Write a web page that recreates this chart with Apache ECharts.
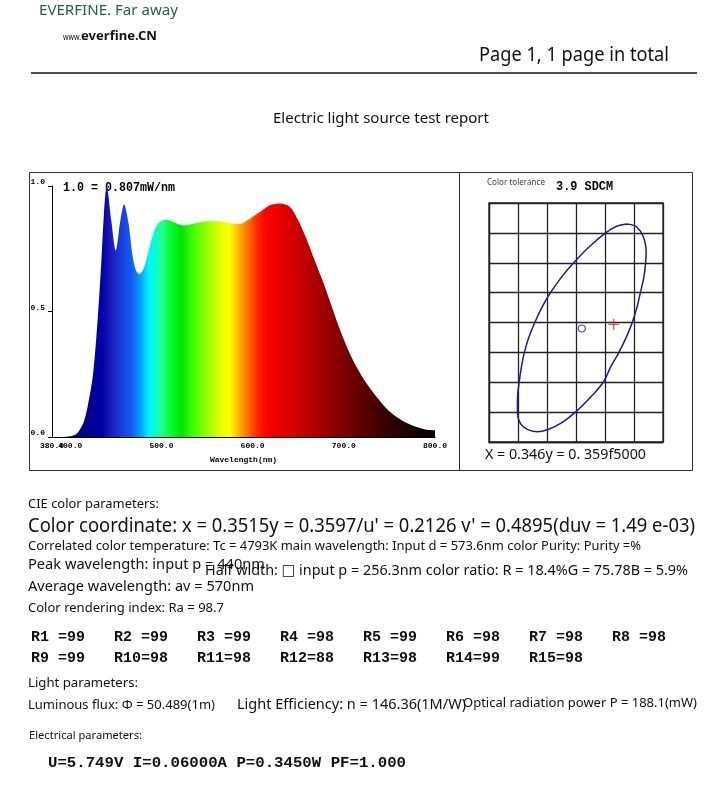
<!DOCTYPE html>
<html>
<head>
<meta charset="utf-8">
<script src="https://cdn.jsdelivr.net/npm/echarts@6/dist/echarts.min.js"></script>
<style>
html, body { margin: 0; padding: 0; background: #fff; }
#report { width: 713px; height: 791px; }
</style>
</head>
<body>
<div id="report"></div>
<script>
// relative spectral power (1.0 = 0.807 mW/nm)
var wavelength = [380, 390, 400, 407, 414, 419, 425, 430, 434, 437,
    440, 445, 450, 455, 459, 464, 468, 472, 476, 481,
    485, 491, 496, 504, 513, 524, 535, 550, 564, 579,
    586, 597, 608, 619, 630, 641, 650, 659, 668, 678,
    687, 696, 705, 714, 725, 736, 747, 758, 769, 780,
    791, 800];
var power = [0.0, 0.0, 0.003, 0.013, 0.053, 0.12, 0.25, 0.465, 0.69, 0.89,
    1.0, 0.863, 0.744, 0.863, 0.927, 0.85, 0.73, 0.664, 0.648, 0.675,
    0.73, 0.81, 0.85, 0.866, 0.857, 0.843, 0.85, 0.86, 0.86, 0.85,
    0.85, 0.87, 0.896, 0.923, 0.93, 0.916, 0.863, 0.79, 0.704, 0.611,
    0.518, 0.425, 0.345, 0.279, 0.213, 0.159, 0.113, 0.08, 0.056, 0.04,
    0.029, 0.027];
// the 380 label sits on top of the 400 one in the scan
var spectrumTicks = [400, 500, 600, 700, 800];
var spectrumStartTick = [380];

// colour tolerance ellipse (CIE x, y)
var ellipseX = [0.3537, 0.3551, 0.3561, 0.3568, 0.3571, 0.3570, 0.3567, 0.3561, 0.3555, 0.3547,
    0.3537, 0.3524, 0.3510, 0.3497, 0.3475, 0.3449, 0.3425, 0.3402, 0.3383, 0.3366,
    0.3354, 0.3349, 0.3349, 0.3352, 0.3356, 0.3361, 0.3369, 0.3379, 0.3391, 0.3406,
    0.3425, 0.3446, 0.3472, 0.3501, 0.3520, 0.3537];
var ellipseY = [0.3765, 0.3762, 0.3753, 0.3738, 0.3718, 0.3700, 0.3676, 0.3650, 0.3625, 0.3600,
    0.3576, 0.3550, 0.3526, 0.3500, 0.3475, 0.3450, 0.3432, 0.3421, 0.3417, 0.3421,
    0.3431, 0.3450, 0.3470, 0.3500, 0.3526, 0.3550, 0.3576, 0.3600, 0.3625, 0.3650,
    0.3676, 0.3700, 0.3726, 0.3750, 0.3761, 0.3765];
var targetPoint = [0.346, 0.359];
var measuredPoint = [0.3515, 0.3597];

var criNames = ['R1', 'R2', 'R3', 'R4', 'R5', 'R6', 'R7', 'R8',
    'R9', 'R10', 'R11', 'R12', 'R13', 'R14', 'R15'];
var criValues = [99, 99, 99, 98, 99, 98, 98, 98, 99, 98, 98, 88, 98, 99, 98];

// colours of the spectrum fill
var spectrumStops = [
    [380, '#000070'], [420, '#000090'], [435, '#0000a8'], [445, '#1c1cb8'],
    [456, '#1a3cdc'], [468, '#1060f4'], [478, '#00a8ff'], [486, '#00f4ff'],
    [493, '#00ffd8'], [501, '#28ff88'], [510, '#00ff30'], [522, '#00e400'],
    [535, '#44ff00'], [550, '#96ff00'], [565, '#e4ff00'], [575, '#ffff00'],
    [585, '#ffb000'], [595, '#ff7000'], [605, '#ff2800'], [615, '#ff0000'],
    [632, '#e60000'], [652, '#c80000'], [680, '#9c0000'], [700, '#7c0000'],
    [730, '#4e0000'], [760, '#260000'], [800, '#000000']
];

var sans = '"Noto Sans", "DejaVu Sans", sans-serif';
var mono = '"Liberation Mono", "DejaVu Sans Mono", monospace';

var measureCtx = document.createElement('canvas').getContext('2d');

// text squeezed to the width it takes in the scan
function fitText(str, x, y, size, width, extra) {
    extra = extra || {};
    var font = (extra.weight || 'normal') + ' ' + size + 'px ' + (extra.family || sans);
    measureCtx.font = font;
    var w = measureCtx.measureText(str).width;
    return {
        type: 'text',
        x: x,
        y: y,
        scaleX: width ? width / w : 1,
        silent: true,
        style: {
            text: str,
            font: font,
            fill: extra.color || '#111',
            align: 'left',
            verticalAlign: 'middle'
        }
    };
}

var graphics = [
    { type: 'rect', shape: { x: 29.5, y: 172.5, width: 430, height: 298 }, style: { fill: null, stroke: '#333', lineWidth: 1 } },
    { type: 'rect', shape: { x: 459.5, y: 172.5, width: 233, height: 298 }, style: { fill: null, stroke: '#333', lineWidth: 1 } },
    { type: 'line', shape: { x1: 31, y1: 73, x2: 697, y2: 73 }, style: { stroke: '#111', lineWidth: 1.5 } },

    fitText('EVERFINE. Far away', 39, 11, 15, 139, { color: '#2d5b4e' }),
    fitText('www.', 63, 38, 8, 18, { color: '#111' }),
    fitText('everfine.CN', 81, 37, 12, 76, { weight: 'bold', color: '#111' }),
    fitText('Page 1, 1 page in total', 479, 56, 19, 190),
    fitText('Electric light source test report', 273, 119, 15, 216),

    fitText('1.0 = 0.807mW/nm', 63, 188, 12, 112, { family: mono, weight: 'bold', color: '#000' }),
    fitText('Color tolerance', 487, 183, 8, 58, { color: '#444' }),
    fitText('3.9 SDCM', 556, 187, 12, 57, { family: mono, weight: 'bold', color: '#000' }),
    fitText('X = 0.346y = 0. 359f5000', 485, 455, 15, 161),

    fitText('CIE color parameters:', 28, 504, 12.5, 131),
    fitText("Color coordinate: x = 0.3515y = 0.3597/u' = 0.2126 v' = 0.4895(duv = 1.49 e-03)", 28, 526, 20, 667),
    fitText('Correlated color temperature: Tc = 4793K main wavelength: Input d = 573.6nm color Purity: Purity =%', 28, 546, 12.5, 613),
    fitText('Peak wavelength: input p = 440nm', 28, 565, 15, 237),
    fitText('Half width: \u25a1 input p = 256.3nm color ratio: R = 18.4%G = 75.78B = 5.9%', 205, 571, 15, 483),
    fitText('Average wavelength: av = 570nm', 28, 587, 15, 226),
    fitText('Color rendering index: Ra = 98.7', 28, 608, 12.5, 196),

    fitText('Light parameters:', 28, 683, 12.5, 110),
    fitText('Luminous flux: \u03a6 = 50.489(1m)', 28, 705, 12.5, 187),
    fitText('Light Efficiency: n = 146.36(1M/W)', 237, 705, 15, 229),
    fitText('Optical radiation power P = 188.1(mW)', 463, 703, 12.5, 234),
    fitText('Electrical parameters:', 29, 736, 10.5, 113),
    fitText('U=5.749V I=0.06000A P=0.3450W PF=1.000', 48, 763, 15, 358, { family: mono, weight: 'bold', color: '#111' })
];

criNames.forEach(function (name, i) {
    var label = (name + '   ').slice(0, 3) + '=' + criValues[i];
    graphics.push(fitText(label, 31 + (i % 8) * 83, 637 + Math.floor(i / 8) * 21, 15, 0,
        { family: mono, weight: 'bold', color: '#111' }));
});

var tickLabel = {
    formatter: function (v) { return v.toFixed(1); },
    fontFamily: mono,
    fontWeight: 'bold',
    fontSize: 8,
    color: '#000',
    margin: 5
};

var chart = echarts.init(document.getElementById('report'));

var option = {
    animation: false,
    backgroundColor: '#fff',
    grid: [
        { left: 52, top: 186, width: 383, height: 251 },
        { left: 489, top: 203, width: 174, height: 239, show: true, borderColor: '#222', borderWidth: 1.3 }
    ],
    xAxis: [
        {
            // second copy of the wavelength axis, only for the 380.0 label
            gridIndex: 0,
            type: 'value',
            position: 'bottom',
            offset: 0,
            min: 380,
            max: 800,
            axisLine: { show: false },
            axisTick: { show: false },
            splitLine: { show: false },
            axisLabel: Object.assign({ customValues: spectrumStartTick, showMinLabel: true }, tickLabel)
        },
        {
            gridIndex: 0,
            type: 'value',
            position: 'bottom',
            offset: 0,
            min: 380,
            max: 800,
            axisLine: { show: true, lineStyle: { color: '#000', width: 1 } },
            axisTick: { show: false },
            splitLine: { show: false },
            axisLabel: Object.assign({ customValues: spectrumTicks }, tickLabel),
            name: 'Wavelength(nm)',
            nameLocation: 'middle',
            nameGap: 19,
            nameTextStyle: { fontFamily: mono, fontWeight: 'bold', fontSize: 8, color: '#000' }
        },
        {
            gridIndex: 1,
            type: 'value',
            min: 0.33,
            max: 0.36,
            interval: 0.005,
            axisLine: { show: true, lineStyle: { color: '#222', width: 1.3 } },
            axisTick: { show: false },
            axisLabel: { show: false },
            splitLine: { show: true, lineStyle: { color: '#222', width: 1.3 } }
        }
    ],
    yAxis: [
        {
            gridIndex: 0,
            type: 'value',
            min: 0,
            max: 1,
            interval: 0.5,
            axisLine: { show: true, lineStyle: { color: '#000', width: 1 } },
            axisTick: { show: true, length: 4, lineStyle: { color: '#000' } },
            splitLine: { show: false },
            axisLabel: {
                formatter: function (v) { return v.toFixed(1); },
                fontFamily: mono,
                fontWeight: 'bold',
                fontSize: 8,
                color: '#000',
                margin: 7,
                verticalAlign: 'bottom'
            }
        },
        {
            gridIndex: 1,
            type: 'value',
            min: 0.34,
            max: 0.38,
            interval: 0.005,
            axisLine: { show: true, lineStyle: { color: '#222', width: 1.3 } },
            axisTick: { show: false },
            axisLabel: { show: false },
            splitLine: { show: true, lineStyle: { color: '#222', width: 1.3 } }
        }
    ],
    series: [
        {
            type: 'line',
            xAxisIndex: 1,
            yAxisIndex: 0,
            data: wavelength.map(function (w, i) { return [w, power[i]]; }),
            smooth: 0.3,
            symbol: 'none',
            silent: true,
            lineStyle: { width: 0 },
            areaStyle: {
                opacity: 1,
                color: new echarts.graphic.LinearGradient(0, 0, 1, 0, spectrumStops.map(function (s) {
                    return { offset: (s[0] - 380) / 420, color: s[1] };
                }))
            }
        },
        {
            type: 'line',
            xAxisIndex: 2,
            yAxisIndex: 1,
            data: ellipseX.map(function (x, i) { return [x, ellipseY[i]]; }),
            smooth: 0.4,
            symbol: 'none',
            silent: true,
            lineStyle: { color: '#1c1c8c', width: 1.5 }
        },
        {
            type: 'scatter',
            xAxisIndex: 2,
            yAxisIndex: 1,
            data: [targetPoint],
            symbol: 'circle',
            symbolSize: 7,
            silent: true,
            itemStyle: { color: '#fff', borderColor: '#2a2aa0', borderWidth: 1.2 }
        },
        {
            type: 'scatter',
            xAxisIndex: 2,
            yAxisIndex: 1,
            data: [measuredPoint],
            symbol: 'path://M4.4,0H5.6V10H4.4Z M0,4.4H10V5.6H0Z',
            symbolSize: 11,
            silent: true,
            itemStyle: { color: '#d03030' }
        }
    ],
    graphic: graphics
};

chart.setOption(option);
</script>
</body>
</html>
